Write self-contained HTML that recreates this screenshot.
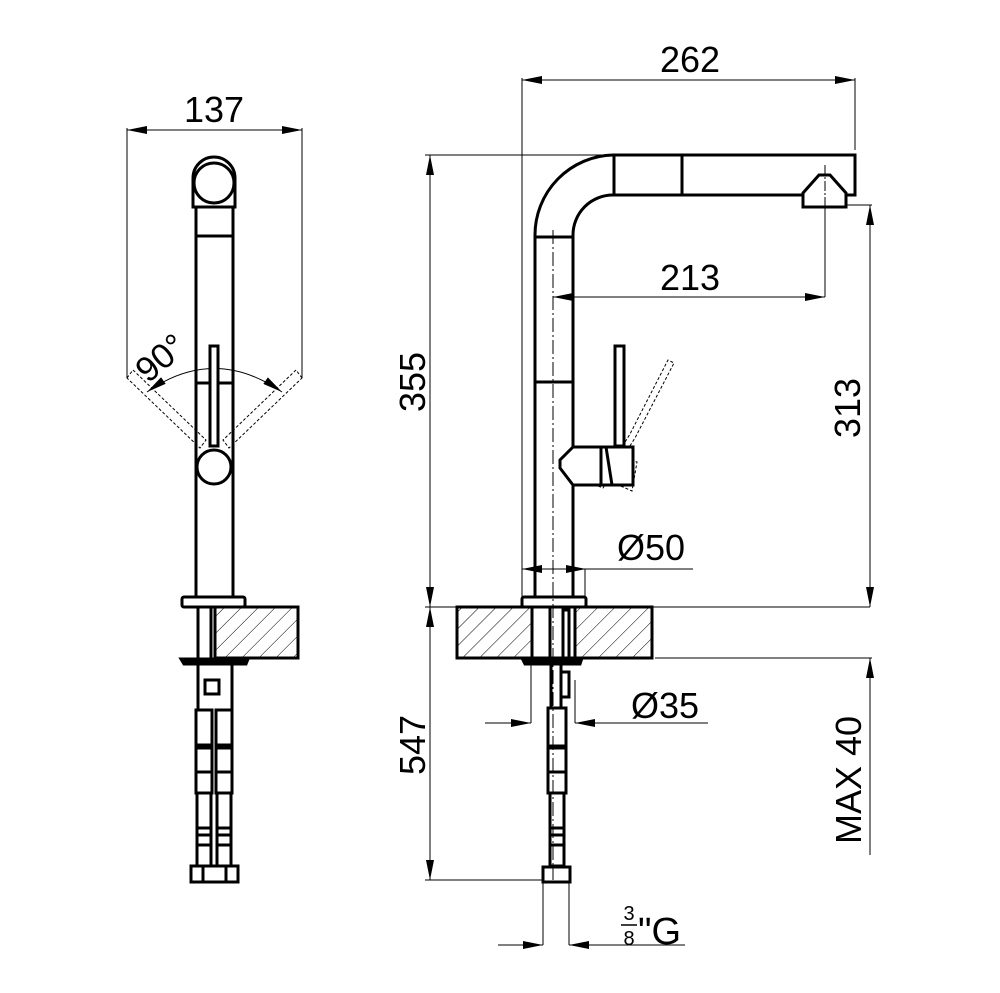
<!DOCTYPE html>
<html><head><meta charset="utf-8"><style>
html,body{margin:0;padding:0;background:#fff}
svg{display:block}
text{font-family:"Liberation Sans",sans-serif;fill:#000}
</style></head><body>
<svg width="1000" height="993" viewBox="0 0 1000 993" xmlns="http://www.w3.org/2000/svg">
<defs>
<marker id="a" viewBox="0 0 20 8" refX="20" refY="4" markerWidth="20" markerHeight="8" markerUnits="userSpaceOnUse" orient="auto-start-reverse"><path d="M0,0 L20,4 L0,8 Z" fill="#000"/></marker>
<pattern id="h" width="12" height="12" patternUnits="userSpaceOnUse" patternTransform="rotate(45)"><line x1="0" y1="0" x2="0" y2="12" stroke="#000" stroke-width="1"/></pattern>
</defs>

<!-- ============ LEFT VIEW ============ -->
<g fill="none" stroke="#000" stroke-width="1">
 <line x1="127" y1="130" x2="302" y2="130" marker-start="url(#a)" marker-end="url(#a)"/>
 <line x1="127" y1="128" x2="127" y2="378"/>
 <line x1="302" y1="128" x2="302" y2="378"/>
 <path d="M147,392 Q214,345 282,392" marker-start="url(#a)" marker-end="url(#a)"/>
 <g stroke-dasharray="3,2">
  <polygon points="127,378 133,370 206,440 200,448"/>
  <polygon points="302,378 296,370 223,440 229,448"/>
 </g>
</g>
<text x="214" y="122" font-size="36" text-anchor="middle">137</text>
<text x="0" y="0" font-size="35" transform="translate(148,384) rotate(-40)">90°</text>
<g fill="none" stroke="#000" stroke-width="3">
 <path d="M193,207 L193,178 A21,21 0 0 1 235,178 L235,207 Z" fill="#fff"/>
 <circle cx="214" cy="183" r="20"/>
 <line x1="196" y1="207" x2="196" y2="597"/>
 <line x1="233" y1="207" x2="233" y2="597"/>
 <line x1="196" y1="236" x2="233" y2="236"/>
 <line x1="196" y1="383" x2="233" y2="383"/>
 <rect x="210" y="346" width="8" height="100" fill="#fff"/>
 <circle cx="214" cy="467" r="17" fill="#fff"/>
 <rect x="182" y="597" width="63" height="10" rx="2"/>
 <rect x="215" y="607" width="83" height="51" fill="url(#h)"/>
 <line x1="198" y1="607" x2="198" y2="660"/><line x1="211" y1="607" x2="211" y2="660"/>
 <path d="M181,659 L248,659 L246,664 L184,664 Z" fill="#000"/>
 <line x1="198" y1="664" x2="198" y2="710"/><line x1="232" y1="664" x2="232" y2="710"/>
 <rect x="205" y="680" width="14" height="14"/>
 <rect x="196" y="710" width="16" height="35"/><rect x="216" y="710" width="16" height="35"/>
 <rect x="196" y="748" width="16" height="45"/><rect x="216" y="748" width="16" height="45"/>
 <line x1="196" y1="772" x2="212" y2="772"/><line x1="216" y1="772" x2="232" y2="772"/>
 <rect x="197" y="793" width="14" height="42"/><rect x="217" y="793" width="14" height="42"/>
 <rect x="197" y="828" width="14" height="38"/><rect x="217" y="828" width="14" height="38"/>
 <line x1="197" y1="845" x2="211" y2="845"/><line x1="217" y1="845" x2="231" y2="845"/>
 <rect x="191" y="866" width="47" height="16"/>
 <line x1="203" y1="866" x2="203" y2="882"/><line x1="226" y1="866" x2="226" y2="882"/>
</g>

<!-- ============ RIGHT VIEW ============ -->
<g fill="none" stroke="#000" stroke-width="1">
 <line x1="522" y1="80" x2="855" y2="80" marker-start="url(#a)" marker-end="url(#a)"/>
 <line x1="522" y1="78" x2="522" y2="597"/>
 <line x1="855" y1="78" x2="855" y2="150"/>
 <line x1="430" y1="155" x2="430" y2="607" marker-start="url(#a)" marker-end="url(#a)"/>
 <line x1="425" y1="155" x2="605" y2="155"/>
 <line x1="425" y1="607" x2="870" y2="607"/>
 <line x1="553" y1="297" x2="825" y2="297" marker-start="url(#a)" marker-end="url(#a)"/>
 <line x1="825" y1="200" x2="825" y2="297"/>
 <line x1="870" y1="205" x2="870" y2="607" marker-start="url(#a)" marker-end="url(#a)"/>
 <line x1="846" y1="205" x2="872" y2="205"/>
 <line x1="553" y1="230" x2="553" y2="880" stroke-dasharray="14,3,2,3"/>
 <line x1="523" y1="569" x2="585" y2="569"/>
 <line x1="585" y1="569" x2="693" y2="569"/>
 <line x1="522" y1="569" x2="545" y2="569" marker-start="url(#a)"/>
 <line x1="563" y1="569" x2="586" y2="569" marker-end="url(#a)"/>
 <line x1="585" y1="569" x2="585" y2="597"/>
 <line x1="655" y1="658" x2="872" y2="658"/>
 <line x1="870" y1="855" x2="870" y2="658" marker-end="url(#a)"/>
 <line x1="430" y1="607" x2="430" y2="880" marker-start="url(#a)" marker-end="url(#a)"/>
 <line x1="425" y1="880" x2="542" y2="880"/>
 <line x1="531" y1="664" x2="531" y2="723"/>
 <line x1="575" y1="680" x2="575" y2="723"/>
 <line x1="485" y1="723" x2="531" y2="723" marker-end="url(#a)"/>
 <line x1="708" y1="723" x2="575" y2="723" marker-end="url(#a)"/>
 <line x1="543" y1="882" x2="543" y2="945"/>
 <line x1="569" y1="882" x2="569" y2="945"/>
 <line x1="498" y1="945" x2="543" y2="945" marker-end="url(#a)"/>
 <line x1="685" y1="945" x2="569" y2="945" marker-end="url(#a)"/>
 <line x1="825" y1="165" x2="825" y2="210" stroke-dasharray="10,2,2,2"/>
 <g stroke-dasharray="3,2">
  <polygon points="603,488 635,438 674,363 668,360 630,434 598,486" />
  <polygon points="607,480 612,455 637,462 632,491"/>
 </g>
</g>
<text x="690" y="72" font-size="36" text-anchor="middle">262</text>
<text x="690" y="290" font-size="36" text-anchor="middle">213</text>
<text x="0" y="0" font-size="36" text-anchor="middle" transform="translate(425,382) rotate(-90)">355</text>
<text x="0" y="0" font-size="36" text-anchor="middle" transform="translate(860,408) rotate(-90)">313</text>
<text x="0" y="0" font-size="36" text-anchor="middle" transform="translate(861,780) rotate(-90)">MAX 40</text>
<text x="0" y="0" font-size="36" text-anchor="middle" transform="translate(425,745) rotate(-90)">547</text>
<text x="651" y="560" font-size="36" text-anchor="middle">Ø50</text>
<text x="665" y="718" font-size="36" text-anchor="middle">Ø35</text>
<text x="629" y="920" font-size="20" text-anchor="middle">3</text>
<line x1="621" y1="925" x2="637" y2="925" stroke="#000" stroke-width="1.5"/>
<text x="629" y="945" font-size="20" text-anchor="middle">8</text>
<text x="638" y="944" font-size="38">"G</text>

<g fill="none" stroke="#000" stroke-width="3">
 <path d="M535,597 L535,235 A80,80 0 0 1 613,155 L855,155 L855,195 L846,195"/>
 <path d="M573,597 L573,235 A40,40 0 0 1 613,195 L803,195"/>
 <line x1="614" y1="155" x2="614" y2="195"/>
 <line x1="682" y1="155" x2="682" y2="195"/>
 <line x1="535" y1="237" x2="573" y2="237"/>
 <line x1="535" y1="382" x2="573" y2="382"/>
 <polygon points="803,207 803,193 819,175 830,175 846,193 846,207"/>
 <rect x="615" y="346" width="9" height="100" fill="#fff"/>
 <path d="M573,447 L633,447 L633,485 L573,485 L560,468 L560,460 Z" fill="#fff"/>
 <line x1="601" y1="447" x2="601" y2="485"/>
 <line x1="606" y1="447" x2="612" y2="485"/>
 <rect x="522" y="597" width="64" height="10" rx="2"/>
 <rect x="457" y="607" width="75" height="51" fill="url(#h)"/>
 <rect x="575" y="607" width="77" height="51" fill="url(#h)"/>
 <line x1="550" y1="607" x2="550" y2="658"/>
 <rect x="563" y="610" width="6" height="48"/>
 <path d="M522,658 L582,658 L580,664 L525,664 Z" fill="#000"/>
 <line x1="551" y1="664" x2="551" y2="707"/><line x1="561" y1="664" x2="561" y2="707"/>
 <rect x="561" y="672" width="8" height="25"/>
 <rect x="548" y="708" width="18" height="38"/>
 <rect x="548" y="748" width="18" height="45"/>
 <line x1="548" y1="772" x2="566" y2="772"/>
 <rect x="550" y="793" width="14" height="42"/>
 <rect x="550" y="828" width="14" height="38"/>
 <line x1="550" y1="845" x2="564" y2="845"/>
 <rect x="543" y="867" width="27" height="15"/>
</g>
</svg>
</body></html>
